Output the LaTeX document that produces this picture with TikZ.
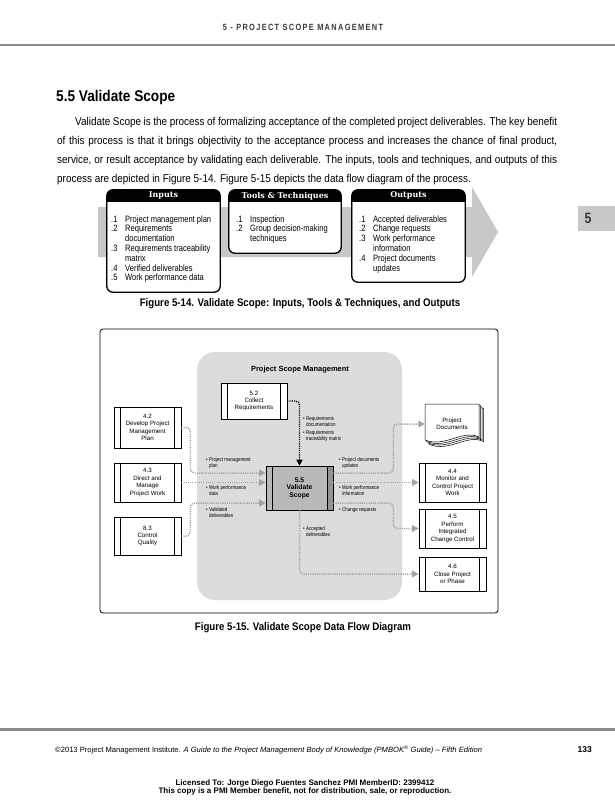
\documentclass[tikz,border=0pt]{standalone}
\usepackage{fontspec}
\setmainfont{Liberation Sans}
\newfontfamily\cond{Liberation Sans}[FakeStretch=0.82]
\newfontfamily\wide{Liberation Sans}[FakeStretch=0.88]
\newfontfamily\condsp{Liberation Sans}[FakeStretch=0.82,LetterSpace=15]
\newfontfamily\slab{DejaVu Serif}
\usetikzlibrary{arrows.meta,calc}
\definecolor{rulegrey}{HTML}{8C8C8C}
\definecolor{headgrey}{HTML}{3A3A3A}
\definecolor{arrowgrey}{HTML}{C8C8C8}
\definecolor{tabgrey}{HTML}{C9C9C9}
\definecolor{psmgrey}{HTML}{DCDCDC}
\definecolor{procgrey}{HTML}{B9B9B9}
\definecolor{stripgrey}{HTML}{939393}
\definecolor{flowgrey}{HTML}{A3A3A3}
\tikzset{
  ittobox/.style={draw, fill=white, rounded corners=6pt, line width=0.8pt, inner sep=0pt},
  ittohead/.style={text=white, font=\slab\bfseries\fontsize{8}{9}\selectfont, inner sep=0pt},
  ittolist/.style={anchor=north west, align=left, inner sep=0pt, font=\cond\fontsize{9.2}{9.8}\selectfont},
  proc/.style={draw, fill=white, line width=0.6pt, inner sep=0pt, align=center,
    font=\fontsize{6.2}{7.4}\selectfont,
    path picture={\draw[line width=0.6pt] ([xshift=6.5pt]path picture bounding box.north west) -- ([xshift=6.5pt]path picture bounding box.south west)
      ([xshift=-6.5pt]path picture bounding box.north east) -- ([xshift=-6.5pt]path picture bounding box.south east);}},
  mainproc/.style={draw, fill=procgrey, line width=0.6pt, inner sep=0pt, align=center,
    font=\bfseries\fontsize{6.8}{7.6}\selectfont,
    path picture={\fill[stripgrey] ([xshift=-6pt]path picture bounding box.north east) rectangle (path picture bounding box.south east);
      \draw[line width=0.6pt] ([xshift=6pt]path picture bounding box.north west) -- ([xshift=6pt]path picture bounding box.south west)
      ([xshift=-6pt]path picture bounding box.north east) -- ([xshift=-6pt]path picture bounding box.south east);}},
  lbl/.style={anchor=north west, align=left, inner sep=0pt, font=\cond\fontsize{5.5}{6.6}\selectfont},
  flow/.style={draw=flowgrey, line width=1.5pt, dash pattern=on 1.1pt off 1.1pt, rounded corners=4pt,
    -{Triangle[length=6.5pt,width=6.5pt,fill=flowgrey]}},
  blackflow/.style={draw=black, line width=1.3pt, dash pattern=on 1.1pt off 1.1pt, rounded corners=4pt,
    -{Triangle[length=6pt,width=6pt,fill=black]}},
  docsheet/.style={draw, fill=white, line width=0.5pt}
}
\newcommand\pline[1]{\makebox[500pt][s]{#1}}
\newcommand\num[1]{\makebox[14pt][l]{#1}}
\newcommand\ind{\hspace*{14pt}}
\begin{document}
\begin{tikzpicture}[x=1pt,y=-1pt]
\useasboundingbox[fill=white] (0,0) rectangle (615,800);

% header
\node[font=\condsp\bfseries\fontsize{9}{10}\selectfont, text=headgrey] (hdr) at (303,27) {5 - PROJECT SCOPE MANAGEMENT};
\draw[rulegrey, line width=2.2pt] (0,45) -- (615,45);

% title and paragraph
\node[anchor=base west, inner sep=0pt, font=\wide\bfseries\fontsize{15.5}{18}\selectfont] (title) at (56,101) {5.5 Validate Scope};
\begin{scope}[every node/.style={anchor=base west, inner sep=0pt, font=\wide\fontsize{11.3}{13}\selectfont}]
\node (l1) at (75,125.5) {\makebox[482pt][s]{Validate Scope is the process of formalizing acceptance of the completed project deliverables. The key benefit}};
\node (l2) at (57,144.5) {\pline{of this process is that it brings objectivity to the acceptance process and increases the chance of final product,}};
\node (l3) at (57,163.5) {\pline{service, or result acceptance by validating each deliverable. The inputs, tools and techniques, and outputs of this}};
\node (l4) at (57,182.5) {process are depicted in Figure 5-14. Figure 5-15 depicts the data flow diagram of the process.};
\end{scope}

% chapter tab
\node[fill=tabgrey, minimum width=37pt, minimum height=25pt, anchor=north east, inner sep=0pt] (tab) at (615,206) {};
\node[font=\cond\bfseries\fontsize{15}{16}\selectfont, text=headgrey, inner sep=0pt] (tabn) at (588,218.5) {5};

% ITTO figure
\fill[arrowgrey] (98,207) -- (472,207) -- (472,187) -- (498,232) -- (472,277) -- (472,257) -- (98,257) -- cycle;
\node[ittobox, minimum width=113pt, minimum height=102pt] (inp) at (163.5,241) {};
\node[ittobox, minimum width=112pt, minimum height=63pt] (tt) at (285,221.5) {};
\node[ittobox, minimum width=113pt, minimum height=92pt] (out) at (408.5,236) {};
\foreach \b in {inp,tt,out}{
  \begin{scope}
    \clip[rounded corners=6pt] (\b.north west) rectangle (\b.south east);
    \fill (\b.north west) rectangle ([yshift=-12.5pt]\b.north east);
  \end{scope}
  \draw[line width=0.8pt, rounded corners=6pt] (\b.north west) rectangle (\b.south east);
}
\node[ittohead] (inph) at ($(inp.north)+(0,6.2)$) {Inputs};
\node[ittohead] (tth) at ($(tt.north)+(0,6.2)$) {Tools \& Techniques};
\node[ittohead] (outh) at ($(out.north)+(0,6.2)$) {Outputs};
\node[ittolist] (inpl) at (111,215.3) {\num{.1}Project management plan\\ \num{.2}Requirements\\ \ind documentation\\ \num{.3}Requirements traceability\\ \ind matrix\\ \num{.4}Verified deliverables\\ \num{.5}Work performance data};
\node[ittolist] (ttl) at (236,215.3) {\num{.1}Inspection\\ \num{.2}Group decision-making\\ \ind techniques};
\node[ittolist] (outl) at (359,215.3) {\num{.1}Accepted deliverables\\ \num{.2}Change requests\\ \num{.3}Work performance\\ \ind information\\ \num{.4}Project documents\\ \ind updates};
\node[font=\wide\bfseries\fontsize{11}{12}\selectfont] (cap1) at (300,304) {Figure 5-14. Validate Scope: Inputs, Tools \& Techniques, and Outputs};

% Data flow diagram
\node[draw, rounded corners=3pt, line width=0.8pt, minimum width=398pt, minimum height=284pt, inner sep=0pt] (frame) at (299,471) {};
\node[fill=psmgrey, rounded corners=18pt, minimum width=205pt, minimum height=248pt, inner sep=0pt] (psm) at (299.5,476) {};
\node[font=\bfseries\fontsize{7.5}{9}\selectfont] (psmt) at (300,370) {Project Scope Management};

\node[proc, minimum width=67pt, minimum height=41pt] (p42) at (147.5,427.5) {4.2\\Develop Project\\Management\\Plan};
\node[proc, minimum width=67pt, minimum height=39pt] (p43) at (147.5,482.5) {4.3\\Direct and\\Manage\\Project Work};
\node[proc, minimum width=67pt, minimum height=38pt] (p83) at (147.5,536) {8.3\\Control\\Quality};
\node[proc, minimum width=66pt, minimum height=36pt] (p52) at (254,401) {5.2\\Collect\\Requirements};
\node[mainproc, minimum width=67pt, minimum height=44pt] (p55) at (299.5,488) {5.5\\Validate\\Scope};
\node[proc, minimum width=67pt, minimum height=39pt] (p44) at (452.5,482.5) {4.4\\Monitor and\\Control Project\\Work};
\node[proc, minimum width=67pt, minimum height=39pt] (p45) at (452.5,528.5) {4.5\\Perform\\Integrated\\Change Control};
\node[proc, minimum width=67pt, minimum height=34pt] (p46) at (452.5,574) {4.6\\Close Project\\or Phase};

% project documents
\foreach \o in {4.5,3,1.5,0}{
  \draw[docsheet] ($(425,404)+(\o,\o)$) -- ++(54,0) -- ++(0,33) .. controls +(-16,-8) and +(20,8) .. ++(-54,3) -- cycle;
}
\node[align=center, inner sep=0pt, font=\fontsize{6.2}{7.4}\selectfont, minimum width=54pt, minimum height=30pt] (doc) at (452,424) {Project\\Documents};

% connectors
\draw[flow] (p42.east) -- ++(9,0) |- ([yshift=15pt]p55.west);
\draw[flow] (p43.east) -- (p43.east -| p55.west);
\draw[flow] (p83.east) -- ++(9,0) |- ([yshift=-15pt]p55.west);
\draw[blackflow] (p52.east) -| (p55.north);
\draw[flow] ([yshift=15pt]p55.east) -- ++(60,0) |- (doc.west);
\draw[flow] (p55.east |- p44.west) -- (p44.west);
\draw[flow] ([yshift=-15pt]p55.east) -- ++(60,0) |- (p45.west);
\draw[flow] (p55.south) |- (p46.west);

% labels
\node[lbl] (t1) at (303,416) {• Requirements\\\phantom{• }documentation};
\node[lbl] (t2) at (303,430) {• Requirements\\\phantom{• }traceability matrix};
\node[lbl] (t3) at (206,457) {• Project management\\\phantom{• }plan};
\node[lbl] (t4) at (206,485) {• Work performance\\\phantom{• }data};
\node[lbl] (t5) at (206,507) {• Validated\\\phantom{• }deliverables};
\node[lbl] (t6) at (339,457) {• Project documents\\\phantom{• }updates};
\node[lbl] (t7) at (339,485) {• Work performance\\\phantom{• }information};
\node[lbl] (t8) at (339,507) {• Change requests};
\node[lbl] (t9) at (303,526) {• Accepted\\\phantom{• }deliverables};

\node[font=\wide\bfseries\fontsize{11}{12}\selectfont] (cap2) at (303,628) {Figure 5-15. Validate Scope Data Flow Diagram};

% footer
\draw[rulegrey, line width=3pt] (0,729) -- (615,729);
\node[anchor=base west, inner sep=0pt, font=\fontsize{7.6}{8}\selectfont] (foot) at (55,752) {©2013 Project Management Institute. \textit{A Guide to the Project Management Body of Knowledge (PMBOK\textsuperscript{®} Guide) -- Fifth Edition}};
\node[anchor=base east, inner sep=0pt, font=\bfseries\fontsize{8.5}{9}\selectfont] (pg) at (592,752) {133};
\node[font=\bfseries\fontsize{8}{8}\selectfont, align=center, inner sep=0pt] (lic) at (305,787) {Licensed To: Jorge Diego Fuentes Sanchez PMI MemberID: 2399412\\This copy is a PMI Member benefit, not for distribution, sale, or reproduction.};
\end{tikzpicture}
\end{document}
